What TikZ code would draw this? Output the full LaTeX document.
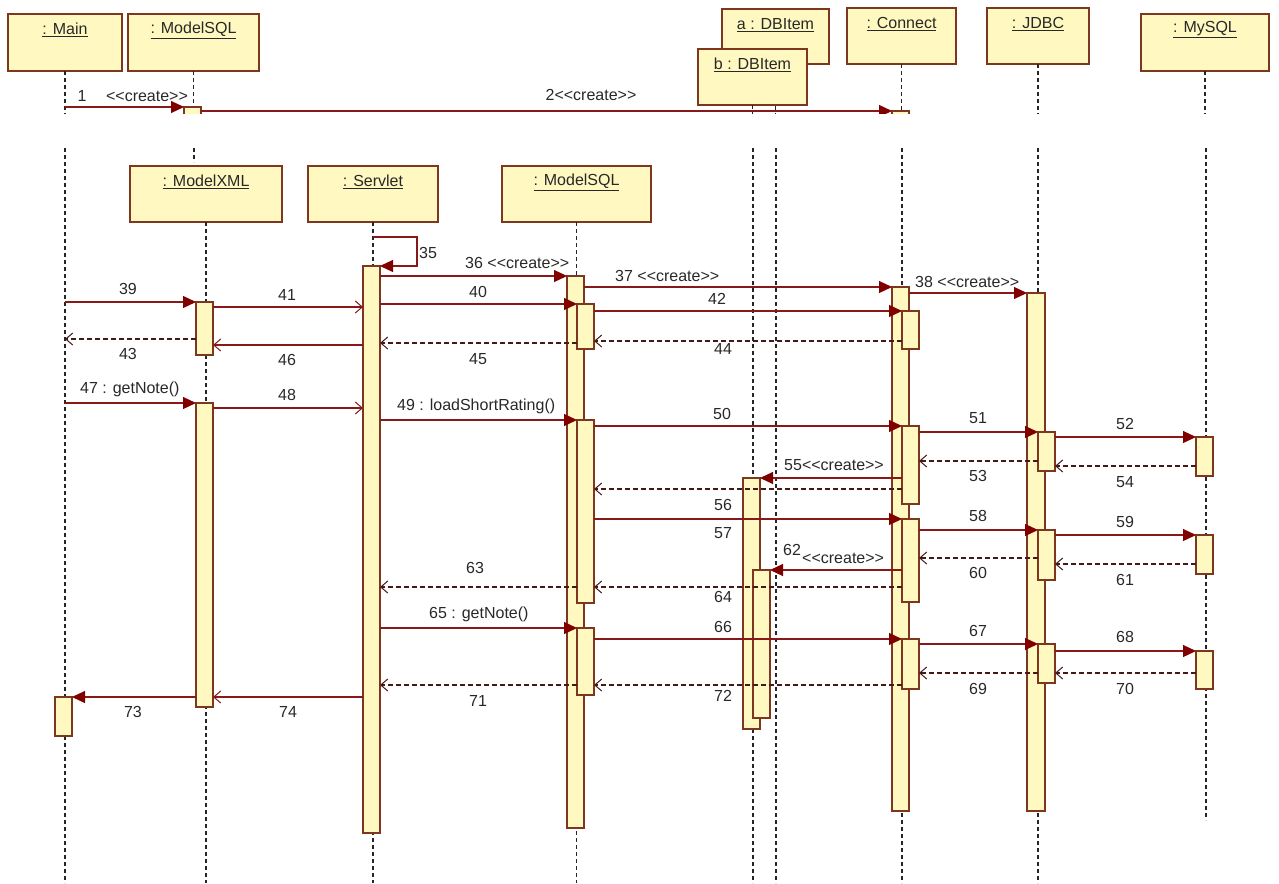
\documentclass[tikz,border=0pt]{standalone}
\usepackage{fontspec}
\setmainfont{Liberation Sans}
\usetikzlibrary{arrows.meta}
\definecolor{boxc}{RGB}{125,55,30}
\definecolor{fillc}{RGB}{255,248,192}
\definecolor{msgc}{RGB}{135,25,25}
\definecolor{tipc}{RGB}{128,0,0}
\definecolor{replc}{RGB}{70,25,25}
\definecolor{txtc}{RGB}{40,40,40}
\newcommand\cre{<{}<create>{}>}
\newcommand\hdrbox[6]{\node[hdr,minimum width={(#4-#2)*1pt},minimum height={(#5-#3)*1pt}] (#1) at ({(#2+#4)/2},{(#3+#5)/2}) {};
  \node[lbl] (#1t) at ([yshift=-16pt]#1.north) {\underline{#6}};}
\newcommand\actv[4]{\node[actbox,minimum height={(#4-#3)*1pt}] (#1) at ({#2+8.5},{(#3+#4)/2}) {};}
\newcommand\msg[4]{\draw[#1] (#2 |- 0,#4) -- (#3 |- 0,#4);}
\tikzset{
  hdr/.style={draw=boxc, fill=fillc, line width=1.4pt, inner sep=0pt, outer sep=0pt},
  actbox/.style={draw=boxc, fill=fillc, line width=1.3pt, inner sep=0pt, outer sep=0pt, minimum width=17pt},
  life/.style={draw=black!85, line width=1.3pt, dash pattern=on 4pt off 3pt},
  syncmsg/.style={draw=msgc, line width=1.2pt, -{Triangle[length=13pt,width=12pt,color=tipc]}},
  asyncmsg/.style={draw=msgc, line width=1.2pt, -{Straight Barb[length=7pt,width=12pt,line width=1pt]}},
  reply/.style={draw=replc, line width=1.2pt, dash pattern=on 5pt off 3pt, -{Straight Barb[length=7pt,width=12pt,line width=1pt]}},
  lbl/.style={font=\fontsize{16}{18}\selectfont, text=txtc, inner sep=0pt}
}
\begin{document}
\begin{tikzpicture}[x=1pt,y=-1pt]
\useasboundingbox (0,0) rectangle (1279,883);
% ---------- top part ----------
\begin{scope}
\clip (0,0) rectangle (1279,113.5);
\hdrbox{mainbox}{8}{14}{122}{71}{: Main}
\hdrbox{msqlbox}{128}{14}{259}{71}{: ModelSQL}
\hdrbox{abox}{722}{9}{829}{64}{a : DBItem}
\draw[life] (abox.south) -- (abox.south |- 0,120);
\hdrbox{bbox}{698}{49}{807}{105}{b : DBItem}
\hdrbox{conbox}{847}{8}{956}{64}{: Connect}
\hdrbox{jdbcbox}{987}{8}{1089}{64}{: JDBC}
\hdrbox{mysqlbox}{1141}{14}{1269}{71}{: MySQL}
\draw[life] (mainbox.south) -- (mainbox.south |- 0,120);
\draw[life] (msqlbox.south) -- (msqlbox.south |- 0,120);
\draw[life] (bbox.south) -- (bbox.south |- 0,120);
\draw[life] (conbox.south) -- (conbox.south |- 0,120);
\draw[life] (jdbcbox.south) -- (jdbcbox.south |- 0,120);
\draw[life] (mysqlbox.south) -- (mysqlbox.south |- 0,120);
\actv{m1a}{184}{107}{140}
\actv{c0a}{892}{111}{140}
\msg{syncmsg}{mainbox.south}{m1a.west}{107}
\msg{syncmsg}{m1a.east}{c0a.west}{111}
\node[lbl] (l1) at (82,96) {1};
\node[lbl] (l1b) at (147,96) {\cre};
\node[lbl] (l2) at (591,95) {2\cre};
\end{scope}
% ---------- lower part: lifelines ----------
\coordinate (lmain) at (65,148);
\coordinate (lmsql) at (194,148);
\coordinate (lb) at (753,148);
\coordinate (la) at (776,148);
\coordinate (lcon) at (902,148);
\coordinate (ljdbc) at (1038,148);
\coordinate (lmy) at (1206,148);
\draw[life] (lmain) -- (lmain |- 0,883);
\draw[life] (lmsql) -- (lmsql |- 0,162);
\draw[life] (lb) -- (lb |- 0,883);
\draw[life] (la) -- (la |- 0,883);
\draw[life] (lcon) -- (lcon |- 0,883);
\draw[life] (ljdbc) -- (ljdbc |- 0,883);
\draw[life] (lmy) -- (lmy |- 0,820);
\hdrbox{xmlbox}{130}{166}{282}{222}{: ModelXML}
\hdrbox{servbox}{308}{166}{438}{222}{: Servlet}
\hdrbox{sqlbox}{502}{166}{651}{222}{: ModelSQL}
\draw[life] (xmlbox.south) -- (xmlbox.south |- 0,883);
\draw[life] (servbox.south) -- (servbox.south |- 0,883);
\draw[life] (sqlbox.south) -- (sqlbox.south |- 0,883);
% ---------- activations ----------
\actv{sA}{363}{266}{833}
\actv{qA}{567}{276}{828}
\actv{q1}{577}{304}{349}
\actv{q2}{577}{420}{603}
\actv{q3}{577}{628}{695}
\actv{cA}{892}{287}{811}
\actv{c1}{902}{311}{349}
\actv{c2}{902}{426}{504}
\actv{c3}{902}{519}{602}
\actv{c4}{902}{639}{689}
\node[actbox,minimum width=18pt,minimum height=518pt] (jA) at (1036,552) {};
\actv{j1}{1038}{432}{471}
\actv{j2}{1038}{530}{580}
\actv{j3}{1038}{644}{683}
\actv{y1}{1196}{437}{476}
\actv{y2}{1196}{535}{574}
\actv{y3}{1196}{651}{689}
\actv{x1}{196}{302}{355}
\actv{x2}{196}{403}{707}
\actv{mA}{55}{697}{736}
\actv{bA}{743}{478}{729}
\actv{bB}{753}{570}{718}
% ---------- messages ----------
\draw[syncmsg] (servbox.south |- 0,237) -- (417,237) -- (417,266) -- (sA.north east);
\msg{syncmsg}{sA.east}{qA.west}{276}
\msg{syncmsg}{qA.east}{cA.west}{287}
\msg{syncmsg}{cA.east}{jA.west}{293}
\msg{syncmsg}{lmain}{x1.west}{302}
\msg{syncmsg}{sA.east}{q1.west}{304}
\msg{asyncmsg}{x1.east}{sA.west}{307}
\msg{syncmsg}{q1.east}{c1.west}{311}
\msg{reply}{x1.west}{lmain}{339}
\msg{reply}{c1.west}{q1.east}{341}
\msg{reply}{q1.west}{sA.east}{343}
\msg{asyncmsg}{sA.west}{x1.east}{345}
\msg{syncmsg}{lmain}{x2.west}{403}
\msg{asyncmsg}{x2.east}{sA.west}{408}
\msg{syncmsg}{sA.east}{q2.west}{420}
\msg{syncmsg}{q2.east}{c2.west}{426}
\msg{syncmsg}{c2.east}{j1.west}{432}
\msg{syncmsg}{j1.east}{y1.west}{437}
\msg{reply}{j1.west}{c2.east}{461}
\msg{reply}{y1.west}{j1.east}{466}
\msg{syncmsg}{c2.west}{bA.east}{478}
\msg{reply}{c2.west}{q2.east}{489}
\msg{syncmsg}{q2.east}{c3.west}{519}
\msg{syncmsg}{c3.east}{j2.west}{530}
\msg{syncmsg}{j2.east}{y2.west}{535}
\msg{reply}{j2.west}{c3.east}{558}
\msg{reply}{y2.west}{j2.east}{564}
\msg{syncmsg}{c3.west}{bB.east}{570}
\msg{reply}{q2.west}{sA.east}{587}
\msg{reply}{c3.west}{q2.east}{587}
\msg{syncmsg}{sA.east}{q3.west}{628}
\msg{syncmsg}{q3.east}{c4.west}{639}
\msg{syncmsg}{c4.east}{j3.west}{644}
\msg{syncmsg}{j3.east}{y3.west}{651}
\msg{reply}{j3.west}{c4.east}{673}
\msg{reply}{y3.west}{j3.east}{673}
\msg{reply}{q3.west}{sA.east}{685}
\msg{reply}{c4.west}{q3.east}{685}
\msg{asyncmsg}{sA.west}{x2.east}{697}
\msg{syncmsg}{x2.west}{mA.east}{697}
% ---------- labels ----------
\node[lbl] (l35) at (428,253) {35};
\node[lbl,anchor=west] (l36) at (465,263) {36 \cre};
\node[lbl,anchor=west] (l37) at (615,276) {37 \cre};
\node[lbl,anchor=west] (l38) at (915,282) {38 \cre};
\node[lbl] (l39) at (128,289) {39};
\node[lbl] (l40) at (478,292) {40};
\node[lbl] (l41) at (287,295) {41};
\node[lbl] (l42) at (717,299) {42};
\node[lbl] (l43) at (128,354) {43};
\node[lbl] (l44) at (723,349) {44};
\node[lbl] (l45) at (478,359) {45};
\node[lbl] (l46) at (287,360) {46};
\node[lbl,anchor=west] (l47) at (80,389) {47 : getNote()};
\node[lbl] (l48) at (287,395) {48};
\node[lbl,anchor=west] (l49) at (397,406) {49 : loadShortRating()};
\node[lbl] (l50) at (722,414) {50};
\node[lbl] (l51) at (978,418) {51};
\node[lbl] (l52) at (1125,424) {52};
\node[lbl] (l53) at (978,476) {53};
\node[lbl] (l54) at (1125,482) {54};
\node[lbl,anchor=west] (l55) at (784,465) {55\cre};
\node[lbl] (l56) at (723,505) {56};
\node[lbl] (l57) at (723,533) {57};
\node[lbl] (l58) at (978,516) {58};
\node[lbl] (l59) at (1125,522) {59};
\node[lbl] (l60) at (978,573) {60};
\node[lbl] (l61) at (1125,580) {61};
\node[lbl,anchor=west] (l62) at (783,550) {62};
\node[lbl,anchor=west] (l62b) at (802,558) {\cre};
\node[lbl] (l63) at (475,568) {63};
\node[lbl] (l64) at (723,597) {64};
\node[lbl,anchor=west] (l65) at (429,614) {65 : getNote()};
\node[lbl] (l66) at (723,627) {66};
\node[lbl] (l67) at (978,631) {67};
\node[lbl] (l68) at (1125,637) {68};
\node[lbl] (l69) at (978,689) {69};
\node[lbl] (l70) at (1125,689) {70};
\node[lbl] (l71) at (478,701) {71};
\node[lbl] (l72) at (723,696) {72};
\node[lbl] (l73) at (133,712) {73};
\node[lbl] (l74) at (288,712) {74};
\end{tikzpicture}
\end{document}
